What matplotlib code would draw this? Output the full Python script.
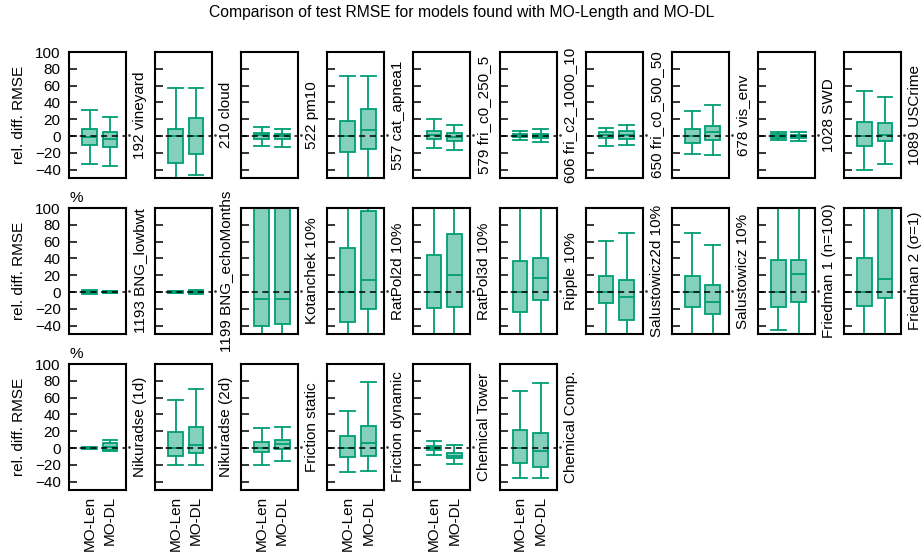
import matplotlib
matplotlib.use("Agg")
import matplotlib.pyplot as plt

plt.rcParams["font.family"] = ["Liberation Sans", "DejaVu Sans"]

# 每个面板右侧的数据集名称
row1_labels = ["192 vineyard", "210 cloud", "522 pm10", "557 cat_apnea1", "579 fri_c0_250_5",
               "606 fri_c2_1000_10", "650 fri_c0_500_50", "678 vis_env", "1028 SWD", "1089 USCrime"]
row2_labels = ["1193 BNG_lowbwt", "1199 BNG_echoMonths", "Kotanchek 10%", "RatPol2d 10%", "RatPol3d 10%",
               "Ripple 10%", "Salustowicz2d 10%", "Salustowicz 10%", "Friedman 1 (n=100)", "Friedman 2 (σ=1)"]
row3_labels = ["Nikuradse (1d)", "Nikuradse (2d)", "Friction static", "Friction dynamic",
               "Chemical Tower", "Chemical Comp."]

# 箱线统计量: (whislo, q1, med, q3, whishi)，单位 %
row1_len = [(-33.6, -10.7, -1.0, 7.9, 30.8), (-55, -31.6, 0.0, 7.9, 57.0), (-11.9, -3.6, 0.8, 3.6, 11.0),
            (-55, -19.4, 0.0, 18.2, 71.5), (-14.6, -3.6, 1.2, 6.3, 19.8), (-5.1, -1.6, 0.0, 2.4, 6.3),
            (-11.5, -2.8, 0.8, 4.3, 9.9), (-21.3, -8.7, 0.0, 7.9, 29.2), (-4.7, -2.0, 0.0, 2.4, 5.1),
            (-41.0, -11.9, 0.0, 16.6, 53.4)]
row1_dl = [(-35.6, -12.6, -4.0, 4.3, 22.9), (-46.6, -21.3, 0.4, 21.3, 57.7), (-13.4, -4.0, 0.0, 2.0, 7.9),
           (-55, -15.4, 6.7, 32.0, 71.5), (-16.6, -5.9, -0.8, 3.2, 12.6), (-7.1, -2.0, 0.4, 2.8, 8.7),
           (-10.7, -4.0, 1.2, 6.3, 13.0), (-22.9, -4.7, 4.3, 12.3, 37.2), (-6.3, -2.0, -0.4, 1.6, 5.1),
           (-32.8, -6.3, 1.2, 15.4, 46.6)]

row2_len = [(-2.2, -1.4, 0.0, 1.2, 2.0), (-1.6, -1.0, 0.0, 1.0, 1.6), (-60, -40.0, -8.8, 120, 150),
            (-60, -35.5, 0.0, 52.0, 120), (-60, -19.1, 0.0, 44.2, 120), (-60, -24.3, 0.0, 37.5, 120),
            (-60, -12.7, 0.0, 19.5, 60.6), (-60, -17.9, 0.0, 19.5, 70.5), (-45.0, -17.9, 0.0, 37.8, 120),
            (-60, -17.1, 0.0, 41.0, 120)]
row2_dl = [(-1.2, -0.8, 0.0, 0.8, 1.2), (-1.8, -1.2, 0.0, 1.2, 1.8), (-60, -38.6, -8.8, 120, 150),
           (-60, -20.7, 14.7, 96.4, 120), (-60, -18.3, 20.7, 68.5, 120), (-60, -9.6, 16.3, 41.0, 120),
           (-60, -33.0, -6.0, 14.3, 70.0), (-60, -26.7, -12.4, 8.8, 55.4), (-60, -12.4, 21.9, 38.2, 120),
           (-60, -7.6, 15.1, 120, 150)]

row3_len = [(-0.6, -0.4, 0.0, 0.4, 0.6), (-19.9, -9.6, 0.0, 19.1, 56.6), (-19.9, -4.8, 0.0, 7.6, 24.3),
            (-28.3, -11.2, 0.0, 14.7, 44.6), (-8.8, -2.4, 0.0, 2.0, 8.0), (-36.3, -17.5, 0.0, 21.0, 68.0)]
row3_dl = [(-3.2, -2.4, 0.8, 5.6, 9.2), (-19.9, -6.4, 4.0, 25.1, 69.7), (-15.9, -1.2, 4.8, 10.0, 24.7),
           (-27.1, -10.0, 6.0, 25.9, 78.5), (-19.5, -12.4, -9.2, -6.0, 4.0), (-36.3, -22.3, -3.6, 18.3, 77.3)]

models = ["MO-Len", "MO-DL"]
yticks = [-40, -20, 0, 20, 40, 60, 80, 100]

rows = [(row1_labels, row1_len, row1_dl, False),
        (row2_labels, row2_len, row2_dl, True),
        (row3_labels, row3_len, row3_dl, True)]

green = "#009e73"
fill = (0.0, 0.62, 0.45, 0.48)

W, H = 924, 560
fig = plt.figure(figsize=(W / 100, H / 100), dpi=100)

# 面板位置（像素）
x0, dx, pw = 69, 86.1, 57
row_tops = [52, 208, 364]
ph = 126


def to_stats(t):
    lo, q1, med, q3, hi = t
    return dict(whislo=lo, q1=q1, med=med, q3=q3, whishi=hi, fliers=[])


for r, (labels, s_len, s_dl, pct) in enumerate(rows):
    top = row_tops[r]
    for k, name in enumerate(labels):
        left = x0 + dx * k
        ax = fig.add_axes([left / W, 1 - (top + ph) / H, pw / W, ph / H])
        ax.bxp([to_stats(s_len[k]), to_stats(s_dl[k])], positions=[1, 2], widths=0.72,
               patch_artist=True, showfliers=False,
               boxprops=dict(facecolor=fill, edgecolor=green, linewidth=1.3),
               medianprops=dict(color=green, linewidth=1.3),
               whiskerprops=dict(color=green, linewidth=1.3),
               capprops=dict(color=green, linewidth=1.3),
               capwidths=0.72)
        ax.set_xlim(0, 2.78)
        ax.set_ylim(-50, 100)
        # 零线，右侧多出一个点
        ax.axhline(0, color="black", linestyle=(0, (4, 3)), linewidth=1.1, zorder=5)
        ax.plot([2.93], [1.5], marker="o", markersize=0.9, color="#333333", clip_on=False)
        for sp in ax.spines.values():
            sp.set_linewidth(1.5)
        ax.set_yticks(yticks)
        ax.tick_params(axis="y", direction="in", length=6, width=1.1, right=False,
                       labelsize=11, pad=6)
        if k > 0:
            ax.set_yticklabels([])
        if r == 2:
            ax.set_xticks([1, 2])
            ax.set_xticklabels(models, rotation=90, fontsize=11)
            ax.tick_params(axis="x", length=0, pad=4)
        else:
            ax.set_xticks([])
        ax.text(1 + 14 / pw, 0.5, name, transform=ax.transAxes, rotation=90, fontsize=11,
                ha="center", va="center", rotation_mode="anchor")
    # 左侧 y 轴标题
    fig.text(19 / W, 1 - (top + ph / 2) / H, "rel. diff. RMSE", rotation=90,
             fontsize=11, ha="center", va="center")
    if pct:
        fig.text(70 / W, 1 - (top - 3) / H, "%", fontsize=11, ha="left", va="bottom")

fig.text(0.5, 1 - 12 / H, "Comparison of test RMSE for models found with MO-Length and MO-DL",
         fontsize=11.3, ha="center", va="center")

fig.savefig("out.png", dpi=100)
